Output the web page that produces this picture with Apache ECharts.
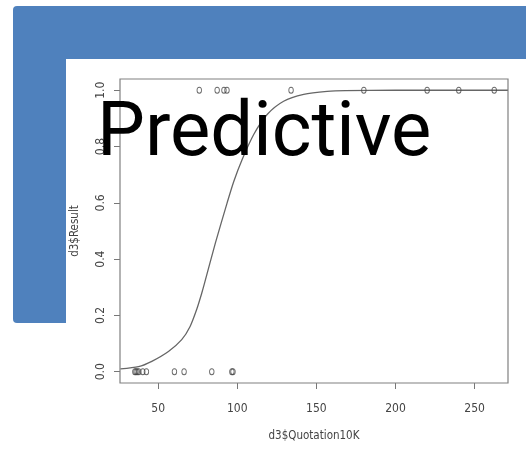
<!DOCTYPE html>
<html>
<head>
<meta charset="utf-8">
<script src="https://cdn.jsdelivr.net/npm/echarts@6/dist/echarts.min.js"></script>
<style>
html,body{margin:0;padding:0;background:#fff;}
#c{width:526px;height:452px;}
</style>
</head>
<body>
<div id="c"></div>
<script>
const titleText = 'Predictive';
const xTitle = 'd3$Quotation10K';
const yTitle = 'd3$Result';
const xTicks = [50, 100, 150, 200, 250];
const yTicks = [0, 0.2, 0.4, 0.6, 0.8, 1.0];
const quotationWon = [76, 87.3, 91.6, 93.5, 134, 180, 220, 240, 262.4];
const quotationLost = [35.3, 36, 36.8, 37.8, 40.3, 42.6, 60.3, 66.4, 83.9, 96.6, 97.3];
const curveX = [26.2, 37.6, 46.0, 56.5, 64.9, 70.2, 74.4, 77.5, 79.2, 86.2, 93.6, 97.8, 103.1, 110.4, 118.9, 129.3, 142.0, 156.8, 168.3, 200, 271];
const curveY = [0.010, 0.018, 0.037, 0.072, 0.114, 0.161, 0.222, 0.278, 0.312, 0.458, 0.600, 0.676, 0.754, 0.843, 0.914, 0.961, 0.985, 0.996, 0.999, 1.0, 1.0];

const labelFont = '"Liberation Sans Narrow", "DejaVu Sans Condensed", "Liberation Sans", Arial, sans-serif';
const chart = echarts.init(document.getElementById('c'));
chart.setOption({
  animation: false,
  backgroundColor: '#fff',
  graphic: [
    { type: 'rect', z: -10, shape: { x: 13, y: 6, width: 513, height: 317, r: [4, 0, 0, 4] }, style: { fill: '#4f81bd' } },
    { type: 'rect', z: -9, shape: { x: 66, y: 59, width: 460, height: 393 }, style: { fill: '#ffffff' } },
    { type: 'text', z: 100, x: 97, y: 98, style: { text: titleText, fill: '#000', font: '76px Roboto, "Open Sans", sans-serif', verticalAlign: 'top' } }
  ],
  grid: { left: 120, top: 79, right: 18, bottom: 69, show: true, borderColor: '#808080', borderWidth: 1.2, backgroundColor: 'transparent', z: 1 },
  xAxis: {
    type: 'value', min: 25.9, max: 271.1,
    name: xTitle, nameLocation: 'middle', nameGap: 47,
    nameTextStyle: { color: '#444', fontSize: 11.5, fontFamily: labelFont },
    axisLine: { show: false, onZero: false },
    axisTick: { show: true, length: 6, lineStyle: { color: '#777' }, customValues: xTicks },
    axisLabel: { color: '#444', fontSize: 12, fontFamily: labelFont, margin: 20, customValues: xTicks },
    splitLine: { show: false }
  },
  yAxis: {
    type: 'value', min: -0.04, max: 1.04,
    name: yTitle, nameLocation: 'middle', nameGap: 39, nameRotate: 90,
    nameTextStyle: { color: '#444', fontSize: 11.5, fontFamily: labelFont },
    axisLine: { show: false, onZero: false },
    axisTick: { show: true, length: 6, lineStyle: { color: '#777' }, customValues: yTicks },
    axisLabel: { color: '#444', fontSize: 12, fontFamily: labelFont, margin: 13, rotate: 90, customValues: yTicks, formatter: v => v.toFixed(1) },
    splitLine: { show: false }
  },
  series: [
    {
      type: 'line', data: curveX.map((x, i) => [x, curveY[i]]), smooth: 0.25, showSymbol: false,
      lineStyle: { color: '#666', width: 1.3 }, z: 3
    },
    {
      type: 'scatter', data: quotationWon.map(x => [x, 1]), symbol: 'circle', symbolSize: [4.5, 6],
      itemStyle: { color: 'rgba(0,0,0,0)', borderColor: '#444', borderWidth: 1 }, z: 4
    },
    {
      type: 'scatter', data: quotationLost.map(x => [x, 0]), symbol: 'circle', symbolSize: [4.5, 6],
      itemStyle: { color: 'rgba(0,0,0,0)', borderColor: '#444', borderWidth: 1 }, z: 4
    }
  ]
});
</script>
</body>
</html>
